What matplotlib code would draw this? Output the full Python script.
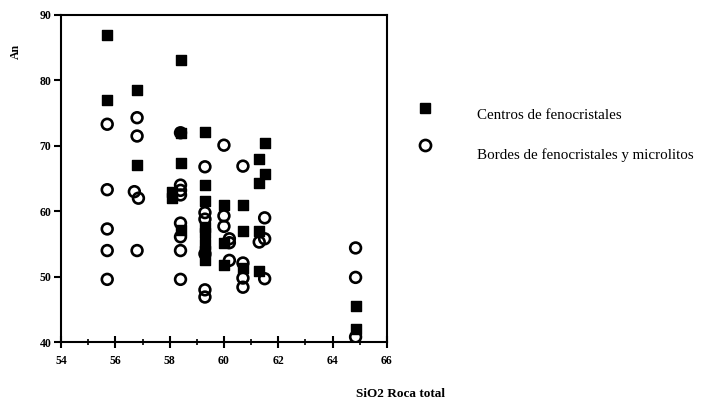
import matplotlib
matplotlib.use("Agg")
import matplotlib.pyplot as plt
from matplotlib.lines import Line2D

# Centros de fenocristales (filled squares)
centros_sio2 = [55.7, 55.7, 56.8, 56.8, 58.4, 58.4, 59.3, 58.4, 61.5, 61.3,
                61.5, 61.3, 58.1, 58.1, 59.3, 59.3, 60.0, 60.7, 58.4, 59.3,
                59.3, 60.7, 61.3, 59.3, 59.3, 59.3, 60.0, 60.0, 60.7, 61.3,
                64.85, 64.85]
centros_an = [86.9, 77.0, 78.5, 67.0, 83.1, 72.0, 72.1, 67.4, 70.4, 68.0,
              65.7, 64.3, 63.0, 62.0, 64.0, 61.5, 61.0, 61.0, 57.1, 57.6,
              56.7, 57.0, 57.0, 55.0, 54.0, 52.5, 55.2, 51.8, 51.4, 50.9,
              45.5, 42.0]

# Bordes de fenocristales y microlitos (open circles)
bordes_sio2 = [55.7, 56.8, 56.8, 58.4, 60.0, 59.3, 60.7, 55.7, 56.7, 56.85,
               58.4, 58.4, 58.4, 55.7, 55.7, 56.8, 55.7, 58.4, 58.4, 58.4,
               58.4, 59.3, 59.3, 59.3, 59.3, 59.3, 60.0, 60.0, 60.2, 60.2,
               60.2, 60.7, 60.7, 60.7, 61.5, 61.5, 61.3, 61.5, 64.85, 64.85,
               64.85]
bordes_an = [73.3, 74.3, 71.5, 72.0, 70.1, 66.8, 66.9, 63.3, 63.0, 62.0,
             64.0, 63.2, 62.5, 57.3, 54.0, 54.0, 49.6, 58.2, 56.1, 54.0,
             49.6, 59.8, 58.8, 53.5, 48.0, 46.9, 59.3, 57.7, 55.8, 55.2,
             52.5, 52.1, 49.8, 48.4, 59.0, 55.8, 55.3, 49.7, 54.4, 49.9,
             40.8]

xticks = [54, 56, 58, 60, 62, 64, 66]
yticks = [40, 50, 60, 70, 80, 90]

plt.rcParams['font.family'] = ['Liberation Serif', 'DejaVu Serif']
plt.rcParams['font.weight'] = 'bold'

fig = plt.figure(figsize=(7.02, 4.04), dpi=100)
ax = fig.add_axes([0.087, 0.153, 0.464, 0.810])

ax.scatter(centros_sio2, centros_an, marker='s', s=50, c='black', zorder=3)
ax.scatter(bordes_sio2, bordes_an, marker='o', s=60, facecolors='none',
           edgecolors='black', linewidths=1.9, zorder=4)

ax.set_xlim(54, 66)
ax.set_ylim(40, 90)
ax.set_xticks(xticks)
ax.set_yticks(yticks)
ax.set_xticks([55, 57, 59, 61, 63, 65], minor=True)
ax.tick_params(axis='x', which='major', direction='inout', length=9, width=1.5,
               labelsize=8.5, pad=5)
ax.tick_params(axis='x', which='minor', direction='inout', length=4, width=1.2)
ax.tick_params(axis='y', which='major', direction='out', length=5, width=1.5,
               labelsize=8.5, pad=2)
for s in ax.spines.values():
    s.set_linewidth(1.5)

fig.text(0.57, 0.025, "SiO2 Roca total", fontsize=9.5, fontweight='bold',
         ha='center', va='center')
fig.text(0.022, 0.872, "An", fontsize=8.5, fontweight='bold', rotation=90,
         ha='center', va='center')

# legend drawn by hand to the right of the axes
fig.add_artist(Line2D([0.605], [0.733], marker='s', markersize=7, color='black',
                      linestyle='none', transform=fig.transFigure))
fig.add_artist(Line2D([0.605], [0.640], marker='o', markersize=8,
                      markerfacecolor='none', markeredgecolor='black',
                      markeredgewidth=1.9, linestyle='none',
                      transform=fig.transFigure))
fig.text(0.68, 0.715, "Centros de fenocristales", fontsize=10.8,
         fontweight='normal', va='center')
fig.text(0.68, 0.615, "Bordes de fenocristales y microlitos", fontsize=10.8,
         fontweight='normal', va='center')

fig.savefig("out.png", dpi=100)
